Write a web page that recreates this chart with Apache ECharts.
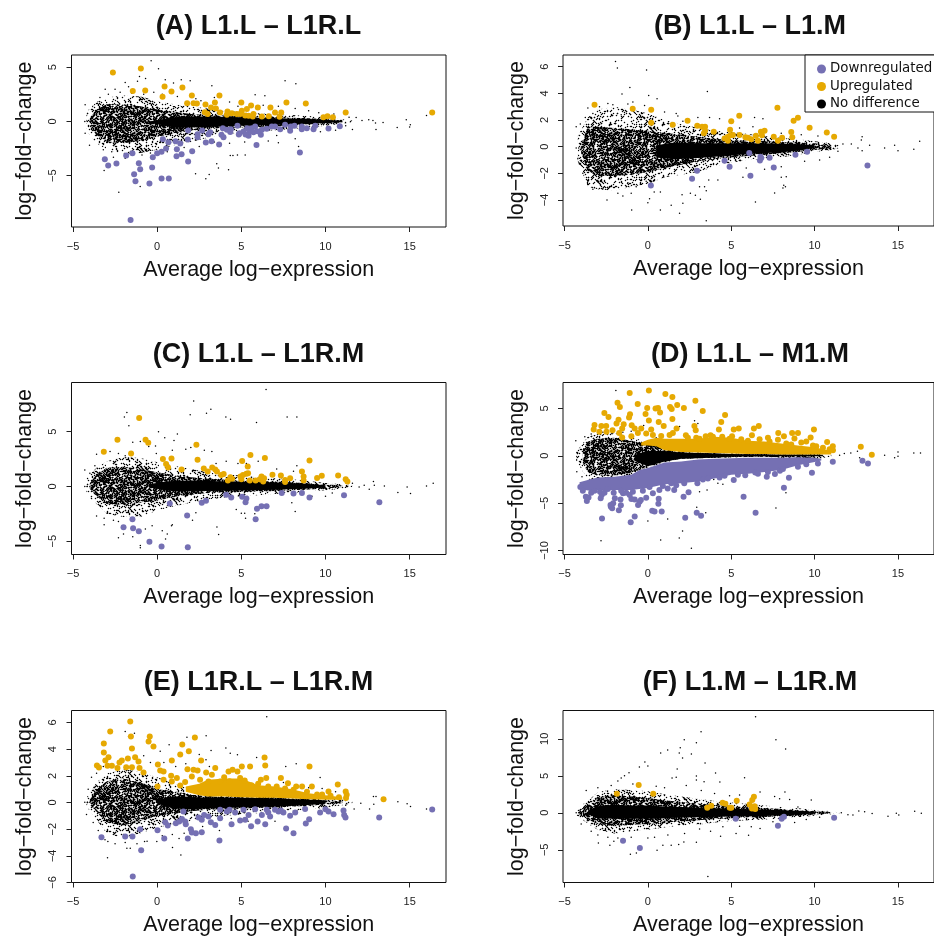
<!DOCTYPE html>
<html><head><meta charset="utf-8">
<style>html,body{margin:0;padding:0;background:#fff;overflow:hidden}#c{width:934px;height:940px}</style>
<script src="https://cdn.jsdelivr.net/npm/echarts@6/dist/echarts.min.js"></script></head>
<body><div id="c"></div>
<script>
const xTicks=[-5,0,5,10,15];
const titles=['(A) L1.L – L1R.L','(B) L1.L – L1.M','(C) L1.L – L1R.M','(D) L1.L – M1.M','(E) L1R.L – L1R.M','(F) L1.M – L1R.M'];
const yTicksA=[-5,0,5], yTicksB=[-4,-2,0,2,4,6], yTicksC=[-5,0,5], yTicksD=[-10,-5,0,5], yTicksE=[-6,-4,-2,0,2,4,6], yTicksF=[-5,0,5,10];

// A
const aOuter=[[-4.2,-.9,.9],[-3.6,-2,1.8],[-3,-2.6,2.2],[-2,-3,2.4],[-1,-2.9,2.3],[0,-2.6,1.9],[1,-2.2,1.6],[2,-1.9,1.4],[3,-1.5,1.2],[4,-1.2,1],[5,-1,.85],[6,-.9,.75],[7,-.8,.65],[8,-.7,.6],[9,-.55,.5],[10,-.4,.4],[11,-.2,.2],[11.6,-.1,.1]];
const aMid=[[-4,-.4,.3],[-3.6,-1.3,1.1],[-3,-1.9,1.6],[-2,-2,1.6],[-1,-1.8,1.4],[0,-1.4,1.1],[1,-1.1,.9],[2,-.85,.7],[3,-.7,.6],[5,-.55,.5],[7,-.45,.4],[9,-.3,.3],[10,-.22,.22],[11,-.1,.1]];
const aCore=[[-.5,-.1,0],[.5,-.4,.25],[1,-.55,.4],[2,-.55,.45],[3,-.5,.45],[5,-.4,.38],[7,-.33,.3],[9,-.22,.22],[10,-.15,.15],[11,-.05,.05]];
const aUp=[[-2.63,4.52],[-.97,4.89],[-1.45,2.8],[-.71,2.86],[.44,3.23],[.85,2.77],[1.5,3.14],[.32,2.28],[2.06,2.4],[3.7,2.4],[1.78,1.69],[2.16,1.69],[2.36,1.66],[2.87,1.57],[3.43,1.75],[3.2,1.29],[3.49,1.2],[2.83,.86],[3,.68],[3.74,.83],[5,1.75],[5.58,1.48],[5.33,1.14],[5.98,1.29],[5.03,1],[6.73,1.29],[7.68,1.75],[8.83,1.66],[7.37,.83],[7,.83],[4.18,.92],[4.14,.62],[4.44,.77],[4.73,.68],[4.93,.7],[5.23,.55],[5.43,.52],[5.72,.7],[5.68,.46],[6.22,.46],[6.63,.49],[7.27,.43],[9.88,.4],[10.12,.49],[10.44,.4],[11.2,.83],[16.34,.83]];
const aDown=[[-1.58,-9.08],[-3.11,-3.48],[-2.91,-4.06],[-2.42,-3.88],[-1.84,-3.14],[-1.47,-2.92],[-1.09,-3.85],[-1.01,-4.4],[-1.37,-4.86],[-1.29,-5.51],[-.46,-5.72],[.26,-5.26],[.69,-5.26],[-.3,-4.25],[-.26,-3.29],[0,-2.92],[.26,-2.8],[.34,-1.63],[.67,-1.91],[.53,-2.49],[1.09,-1.82],[1.37,-2.03],[1.17,-2.55],[1.15,-3.2],[1.45,-3.02],[1.84,-3.69],[2.08,-2.74],[1.84,-.83],[1.82,-1.66],[2.4,-1.17],[2.4,-1.45],[2.67,-.83],[2.89,-1.94],[3.23,-1.82],[3.05,-1.17],[3.15,-1],[3.68,-2.12],[3.82,-1.23],[3.94,-1.45],[3.9,-.62],[4.14,-.77],[4.38,-.71],[4.34,-.98],[4.77,-.4],[4.89,-1.08],[5.13,-.92],[5.43,-1.32],[5.49,-.92],[5.62,-.62],[5.82,-.46],[5.72,-1],[6.16,-1.23],[6.22,-.77],[5.9,-2.18],[6.51,-.68],[6.81,-.46],[7,-.46],[7.31,-.71],[7.6,-.31],[7.94,-.46],[7.9,-.86],[8.16,-.4],[8.59,-.46],[8.59,-.71],[8.89,-.62],[9.29,-.71],[9.39,-.4],[8.48,-2.86],[10.18,-.65],[10.85,-.43],[5.35,-.62],[5.95,-.9],[5.25,-1.2],[4.85,-1.2]];
const aOther=[[-4.3,0],[-4.15,0],[-4,0],[-3.85,0],[-.36,5.6],[.08,4.86],[-1.05,4.15],[-.69,3.97],[-1.17,3.7],[-1.9,3.6],[7.6,3.75],[8.24,3.48],[1.43,3.85],[1.96,3.75],[.48,3.85],[.97,3.55],[3.25,3.3],[-3.09,2.98],[-2.5,2.98],[-1.7,3.2],[5.82,2.46],[6.4,2.37],[-4.28,1.54],[-4.28,-1.08],[-4.02,-2.2],[-3.15,-4.52],[-2.28,-6.52],[-2.6,-3.3],[-1.01,-6],[2.28,-4.83],[2.89,-5.29],[3.09,-4.89],[3.54,-3.9],[3.64,-4.3],[4.24,-4.46],[4.34,-3.14],[4.5,-3.14],[4.77,-3.08],[5.23,-3.08],[11.82,.37],[12.17,.1],[12.57,.15],[12.82,.1],[12.97,-.15],[13.42,-.1],[14.26,-.55],[14.8,.15],[15.04,-.3],[15,-.5],[16,.55],[13,-.75],[11.6,-.75],[-3.4,2.2],[-2.9,2.5],[-2.2,2.7],[-1.5,2.6],[-.8,2.5],[-.2,2.7],[.3,2.5],[1.2,2.3],[2.3,2.1],[2.6,1.9],[3.4,2.2],[4.3,1.8],[4.8,1.4],[6.3,1.5],[7.2,1.4],[8.2,1.2],[9,1],[9.6,.8],[10.5,.7],[11.4,.4],[-3.2,-2.6],[-2.7,-2.8],[-1.9,-3.4],[-.9,-3.1],[-.4,-2.9],[.6,-2.8],[1.6,-2.4],[2.5,-2.3],[3.4,-1.9],[4.3,-2],[5.2,-1.9],[6.6,-1.8],[7.1,-1.3],[8.2,-1.6],[8.4,-2.3],[7.2,-1.95],[9.7,-.95],[10.6,-.8],[11.2,-.4]];

// B
const bOuter=[[-4.2,-1.1,.8],[-3.6,-3,2.2],[-3,-3.2,2.8],[-2,-3.3,3],[-1,-3,2.8],[0,-2.8,2.5],[1,-2.3,2],[2,-2.1,1.7],[3,-1.9,1.4],[4,-1.5,1.2],[5,-1.2,1.1],[6,-1,.95],[7,-.9,.8],[8,-.8,.65],[9,-.6,.55],[10,-.4,.4],[11,-.25,.25],[11.5,-.1,.1]];
const bMid=[[-4,-.5,.2],[-3.6,-1.8,1.5],[-3,-2.2,1.5],[-2,-2.2,1.4],[-1,-2.1,1.3],[0,-1.9,1.2],[1,-1.6,1.05],[2,-1.35,.9],[3,-1.1,.75],[4,-.95,.6],[5,-.8,.5],[6,-.7,.45],[7,-.6,.4],[8,-.5,.35],[9,-.4,.3],[10,-.25,.25],[11,-.1,.1]];
const bCore=[[.5,-.8,.1],[1.5,-.95,.3],[3,-.85,.25],[4,-.75,.25],[5,-.65,.25],[6,-.55,.25],[7,-.5,.25],[8,-.4,.22],[9,-.3,.18],[10,-.1,.1]];
const bUp=[[-3.2,3.15],[-.91,2.85],[.2,2.77],[.2,1.8],[1.49,1.65],[2.38,1.95],[2.96,1.58],[3.25,1.5],[3.43,1.5],[3.43,1.2],[3.36,1],[3.95,1.13],[5,1.9],[5.48,2.32],[7.77,2.92],[4.93,1.27],[9,2.18],[8.74,1.95],[9.7,1.42],[10.73,1.07],[11.17,.75],[8.6,1.1],[7,1.2],[6.78,1.13],[6.84,.85],[6.48,.82],[7.55,.75],[8.05,.68],[8.66,.7],[7.8,.45],[6.6,.45],[6.2,.55],[6,.68],[5.85,.7],[5.5,.88],[5.1,.88],[4.95,.85],[4.78,.72],[4.6,.62],[4.8,.45]];
const bDown=[[.18,-2.92],[2.65,-2.4],[2.95,-1.8],[4.6,-1.05],[4.9,-1.5],[6.08,-.47],[6.75,-.75],[6.8,-.85],[6.72,-1.03],[7.3,-.82],[7.55,-1.57],[6.15,-2.18],[8.85,-.6],[9.55,-.38],[13.17,-1.42]];
const bOther=[[-4.3,-.1],[-4.15,-.1],[-4,-.1],[-3.85,-.1],[-1.94,6.4],[-1.83,5.9],[-.08,5.75],[-1.08,4.45],[3.57,4.15],[.05,3.85],[.55,3.6],[-1.55,3.95],[-1.2,3.2],[-2.4,3.25],[-2.9,3],[-3.6,2.9],[-2.1,3.15],[-.9,3.35],[-.2,3.1],[1,2.6],[1.7,2.5],[1.8,2.3],[3.7,2.2],[4.3,2.1],[6.4,2.2],[6.9,2.1],[-3.75,2.2],[-4.3,1.5],[-4.05,1.7],[-3.3,2.5],[-1.6,2.4],[-.4,2.2],[2.1,1.9],[3,2.2],[-4.2,-.9],[-4.1,-1.3],[-3.9,-2],[-3.6,-2.6],[-3.3,-3.2],[-2.7,-3.15],[-2.45,-4],[-1.8,-3.5],[-1.5,-3.7],[-1,-3.5],[-.97,-4.75],[.1,-3.9],[0,-4.2],[.38,-3.4],[.75,-3.4],[.75,-4.75],[1.4,-4.4],[1.9,-5],[2.05,-3.6],[2.55,-3.5],[2.85,-3.65],[3.15,-3.95],[2.1,-4.25],[3.1,-3],[3.4,-3],[3.5,-3.3],[3.65,-2.5],[4.2,-2.5],[5.7,-2.3],[6.45,-4.15],[7.6,-3.48],[8.15,-2.9],[8.3,-2.25],[8,-2.3],[8.25,-3],[8.1,-3.1],[3.5,-5.55],[-.1,-2.6],[-1.2,-2.7],[-.7,-3],[5.9,-1.6],[7,-1.7],[8,-1.5],[9.4,-1.1],[10.3,-1],[10.9,-.8],[11.4,-.35],[11.7,.2],[12.2,.2],[12.6,-.1],[12.85,-.3],[12.85,.75],[12.8,.5],[13.3,.1],[14.2,-.1],[14.8,.1],[15,-.3],[15.95,-.2],[16.3,.4],[10.2,.8],[9.2,.9],[8,1],[5.5,1.4],[6.3,1.5]];

// C
const cOuter=[[-4.2,-.5,.8],[-3.6,-1.6,1.7],[-3,-2.5,2.3],[-2,-2.8,2.7],[-1,-2.8,2.6],[0,-2.2,2.2],[1,-1.8,1.9],[2,-1.5,1.6],[3,-1.2,1.3],[4,-1,1.1],[5,-.9,1],[6,-.8,.85],[7,-.7,.75],[8,-.6,.65],[9,-.45,.5],[10,-.35,.32],[11,-.2,.2],[11.6,-.05,.1]];
const cMid=[[-4,-.2,.3],[-3.6,-.9,1.1],[-3,-1.6,1.7],[-2,-1.7,1.8],[-1,-1.5,1.6],[0,-1.3,1.3],[1,-.95,1.05],[2,-.75,.85],[3,-.6,.7],[5,-.5,.55],[7,-.42,.45],[9,-.28,.3],[10,-.18,.18],[11,-.05,.1]];
const cCore=[[-.5,-.1,.2],[.5,-.35,.45],[1,-.45,.5],[2,-.45,.55],[3,-.42,.5],[5,-.38,.42],[7,-.3,.35],[9,-.18,.22],[10,-.1,.1]];
const cUp=[[-1.07,6.25],[-3.17,3.16],[-2.36,4.27],[-.69,4.27],[-.53,4],[-1.55,3],[2.33,3.8],[.34,2.5],[.85,2.55],[2.4,2.44],[.53,2.05],[.65,1.73],[1.45,1.55],[2.77,1.65],[3.27,1.73],[3.45,1.55],[3,1.36],[3.55,1.36],[3.8,1.05],[3.95,1.14],[5.54,2.88],[5.05,2.33],[6.4,2.61],[5.38,1.82],[9.05,2.36],[4.2,.55],[4.35,.85],[4.45,.7],[4.95,.9],[5,.65],[5.1,1.05],[5.3,1.15],[5.4,1.2],[5.5,.55],[5.85,.55],[6.1,.65],[6.2,.9],[6.35,.75],[6.3,.45],[6.85,1.06],[7.35,1],[7.6,.6],[7.6,.4],[7.9,.75],[8.6,1.36],[8.7,.9],[8.7,.55],[9.5,.78],[9.78,.97],[10.75,1],[11.2,.65],[11.3,.45]];
const cDown=[[-2,-3.74],[-1.47,-3],[-1.43,-3.82],[-1.09,-4.1],[-.46,-5.06],[.26,-5.5],[1.82,-5.55],[.75,-1.55],[1.78,-2.65],[2.65,-1.5],[2.9,-1.3],[4.1,-.75],[4.4,-1],[5.05,-.95],[5.3,-1.1],[5.25,-1.45],[5.85,-3],[5.93,-2.03],[6.2,-1.8],[6.5,-1.8],[7.4,-.6],[8.1,-.65],[8.6,-.6],[9.05,-1],[11.1,-.8],[13.2,-1.45]];
const cOther=[[-4.3,0],[-4.15,0],[-4,0],[-3.85,0],[6.47,8.85],[2.17,7.8],[3.19,7.05],[2.93,6.7],[1.96,6.55],[-1.8,6.75],[-1.95,6.35],[-1.68,5.55],[4.08,6.35],[4.36,6.15],[5.9,5.85],[7.72,6.35],[8.3,6.35],[.08,5],[1.2,4.8],[.45,4.45],[1,4.2],[-1.45,4.05],[-1,4.1],[-.5,3.65],[-.1,3.7],[2,3.55],[2.8,3.3],[3.25,3.2],[-.05,3],[1.7,3.4],[.9,3.3],[-3.6,2.95],[-2.8,3.2],[-2.3,3],[-1.9,2.8],[4.8,2.1],[5.3,2.1],[4.1,2.3],[3.5,2.1],[6,2.3],[7.1,1.6],[8.3,1.9],[8.1,1.4],[-4.3,1.5],[-4,1.2],[-3.7,1.9],[-3.9,-1.1],[-3.6,-2.7],[-3.15,-2.9],[-3.15,-3.5],[-2.6,-3.1],[-2.3,-3.2],[-2.3,-4.7],[-2,-4.35],[-1.45,-4.6],[-1,-5.4],[-1,-5.6],[-.7,-3.9],[-.3,-3.6],[.3,-4.05],[.6,-4.35],[.5,-4.8],[.9,-3.5],[.85,-3.6],[2.1,-3.1],[2.3,-2.4],[3.55,-3.7],[3.65,-4.4],[4.7,-2.1],[5,-2.45],[5.2,-2.45],[5.25,-2.9],[5.8,-2.5],[6.6,-1.9],[8.2,-2.3],[8,-1.5],[9.2,-.9],[10,-.9],[10.4,-.6],[11.3,.3],[11.6,.3],[12,-.05],[12.3,.1],[12.6,-.25],[12.85,.45],[12.9,.1],[13.5,.05],[14.3,-.55],[14.85,-.05],[15.05,-.65],[16,.05],[16.4,.3]];

// D
const dOuter=[[-4.3,-.5,.4],[-3.6,-2.5,2],[-3,-2.6,2.3],[-2,-2.4,2.4],[-1,-2,2],[0,-1.3,1.4],[1,-.7,1.1],[2,-.3,.4],[3,-.25,.35],[5,-.15,.25],[7,-.1,.2],[9,-.3,.2],[10,-.35,.2],[11,-.1,.1]];
const dMid=[[-3.9,-.8,.7],[-3.6,-1.7,1.5],[-3,-2.1,1.8],[-2,-2.1,1.9],[-1,-1.8,1.6],[0,-1.2,1.2],[1,-.65,.9],[2,-.3,.35],[3,-.25,.3],[5,-.15,.2],[7,-.1,.15],[9,-.2,.15],[10,-.2,.1]];
const dCore=[[-.8,-.5,.1],[0,-1.1,.5],[1,-.6,.5],[2,-.3,.35],[3,-.25,.3],[5,-.1,.2],[7,-.05,.15],[9,-.05,.15],[10.5,-.05,.1]];
const dUpBand=[[-.4,1.1,1.4],[0,1.1,1.7],[.5,1,1.9],[1,.6,1.8],[2,.4,1.8],[3,.35,1.8],[4,.3,2],[5,.25,1.9],[6,.2,1.6],[7,.2,1.5],[8,.15,1.3],[9,.15,1.1],[10,.15,.9],[11,.15,.5]];
const dDownBand=[[-4.1,-3.5,-2.8],[-3.5,-3.7,-2.5],[-3,-3.6,-2.3],[-2,-3.6,-2.2],[-1,-3.6,-2],[-.5,-3.5,-1.5],[0,-3.4,-1.3],[1,-3,-.7],[2,-2.9,-.6],[3,-2.7,-.4],[4,-2.4,-.3],[5,-2,-.25],[6,-1.9,-.2],[7,-1.7,-.2],[8,-1.5,-.2],[9,-1,-.15],[10,-.65,-.2],[10.4,-.5,-.3]];
const dUp=[[.06,6.9],[-1.09,6.63],[1.05,6.53],[1.47,6.2],[2.85,5.8],[-1.82,5.6],[-1.68,5.16],[-.61,5.47],[1.76,5.37],[2.16,5.05],[3.29,4.74],[-.04,5.05],[.46,5],[.61,5.05],[1.33,5.16],[1.43,4.95],[-2.61,4.53],[-2.36,4.1],[-1.07,4.39],[-1.13,4.04],[-.14,4.42],[.73,4.56],[4.63,4.32],[1.47,3.89],[.06,3.72],[.65,3.58],[4.4,3.58],[-1.76,3.82],[-1.88,3.4],[-1.45,3.33],[-3.2,3.26],[-2.79,3.16],[-2.5,3.16],[.95,3.16],[-.97,3.23],[6.65,3.16],[6.36,2.88],[9.96,2.77],[2.79,3.16],[5.45,2.88],[5.15,2.77],[4.26,2.77],[-3.25,2.77],[-2.91,2.53],[-2.48,2.53],[-2.12,2.7],[-1.72,2.42],[-1.54,2.88],[-.79,2.88],[-.4,2.88],[.2,2.77],[1.72,2.88],[2.87,2.7],[7.82,2.42],[8.65,2.42],[9,2.42],[8.16,2.07],[9.76,1.93],[8.79,1.82],[10.75,1.47],[12.77,.95],[13.43,.1],[-1.54,1.93],[-.99,2.07],[-.1,2.35],[6.24,2.18],[5.05,2.07],[3.76,2.18],[3.47,2.07],[4.46,2],[2.28,2.18],[11.09,1.02],[10.5,.85],[10.1,1],[-.6,2.4],[.3,2.2],[.8,2.1],[1.3,2.2],[1.5,2.4],[2.4,1.9],[2.9,1.9],[3.1,1.8],[3.9,2],[4.9,1.8],[5.6,1.75],[6,1.6],[6.7,1.75],[7.2,1.9],[7.3,1.5],[7.8,1.7],[8.3,1.3],[8.6,1.2],[9.2,1.4],[9.5,1.5],[9.9,1.1],[10.9,.7],[11.1,.6]];
const dDown=[[-2.75,-6.63],[-1.03,-7.02],[-.79,-6.42],[.26,-5.79],[.4,-5.89],[.83,-5.89],[2.24,-6.53],[2.93,-6],[3.19,-6.32],[6.46,-6],[5.74,-4.32],[8.16,-3.37],[8.46,-2.32],[9.84,-1.79],[12.87,-.53],[13.2,-.81],[11.09,-.63],[2.14,-4.32],[2.44,-3.86],[.65,-4.53],[.63,-5.05],[-.1,-4.42],[-.5,-4.84],[-.59,-5.19],[-.42,-4.67],[-.99,-4.56],[-.79,-4.6],[-1.64,-4.6],[-1.62,-5.23],[-1.74,-5.75],[-1.98,-4.49],[-2.08,-5.02],[-2.22,-5.37],[-2.14,-5.54],[-2.24,-5.19],[-3.66,-4.77],[-3.56,-4.39],[-3.72,-4.32],[-2.83,-4.49],[-2.77,-4.14],[-2.87,-3.79],[-1.49,-3.96],[-1.09,-4.14],[.3,-3.96],[.69,-3.61],[1.58,-3.61],[1.19,-3.44],[2.18,-2.91],[2.97,-2.91],[5.15,-2.56],[5.84,-2.04],[7.13,-2.21],[7.92,-1.58],[7.62,-1.93],[9,-1.16],[10.2,-.81],[9.5,-.88],[6.44,-1.75],[-4.05,-3.3],[-3.9,-3.7],[-3.4,-3.9],[-3.2,-3.7],[-2.6,-3.9],[-2.4,-3.5],[-2.05,-3.9],[-1.6,-3.7],[-1.3,-3.9],[-.9,-3.8],[-.3,-3.7],[.1,-3.3],[.9,-3.2],[1.4,-2.9],[1.7,-3.1],[3.3,-2.5],[3.6,-2.4],[4.3,-2.3],[4.6,-2.1],[5.4,-2],[6.6,-1.9],[7.2,-1.7],[8.1,-1.4]];
const dOther=[[-1.92,6.9],[0,-6.88],[1.19,-6.67],[2.08,-7.93],[1.88,-8.67],[.77,-8.88],[-2.81,-8.98],[2.61,-9.75],[3.47,-6],[2.93,-5.44],[7.68,-5.51],[8.28,-3.89],[3.1,-3.8],[3.55,-3.6],[2.08,-4.49],[11.78,.25],[12.17,.3],[12.57,.47],[14.2,.05],[15,.4],[15,-.05],[14.8,-.2],[15.95,.3],[16.35,.3],[11.5,.05],[12.7,-.2],[-4.32,1.58],[-4.26,-1.68],[-3.78,2],[-3.95,-2.2],[-3.4,2.3],[-2.7,2.5],[-1.5,2.5],[-1,2.6],[.5,1.9],[2.2,-2],[2.25,-2.1],[2.4,-2.2],[3.75,-2.2],[3.95,-2.5],[2.3,-1.95],[-.2,-1.8],[0,-2.2],[2.8,3.7],[3,3.4],[1.9,3.1],[4.5,-3],[4.2,-2.9],[-.25,3.2]];

// E
const eOuter=[[-4.2,-.3,.35],[-3.6,-1.3,1.5],[-3,-2.3,2.2],[-2,-2.7,2.5],[-1,-2.3,2.3],[0,-1.9,1.9],[1,-1.6,1.4],[2,-1.4,1],[3,-1.1,.7],[4,-1,.5],[5,-.9,.45],[7,-.7,.4],[9,-.55,.3],[10,-.4,.3],[11,-.2,.2],[11.6,-.05,.1]];
const eMid=[[-4,-.15,.25],[-3.6,-.7,1],[-3,-1.5,1.6],[-2,-1.7,1.8],[-1,-1.4,1.5],[0,-1,1],[1,-.85,.85],[2,-.65,.6],[3,-.55,.45],[5,-.45,.4],[7,-.38,.35],[9,-.25,.25],[10,-.15,.15],[11,-.05,.1]];
const eCore=[[0,-.1,.2],[1,-.45,.45],[2,-.5,.42],[3,-.45,.35],[5,-.38,.35],[7,-.3,.3],[9,-.18,.2],[10,-.1,.15]];
const eUpBand=[[1.7,.8,1.2],[2.5,.55,1.4],[3,.45,1.7],[4,.45,1.8],[5,.4,1.8],[6,.35,1.3],[7,.35,1.2],[8,.3,1],[9,.25,.7],[10,.2,.55],[11,.2,.4]];
const eUp=[[-1.6,6.07],[-2.79,5.33],[-1.56,4.95],[-.44,4.95],[-.51,4.58],[2.24,4.88],[-3.17,4.43],[-.22,4.2],[1.49,4.35],[-1.5,4.05],[-3.17,3.75],[1.88,3.85],[1.37,3.6],[-2.89,3.4],[-3.08,3.15],[-1.31,3.4],[-1.74,3.3],[-2.1,3.15],[-2.24,3],[-1.11,3.08],[2.61,3.15],[.87,3.15],[6.38,3.38],[6.42,2.78],[-3.58,2.78],[-3.46,2.63],[-2.95,2.75],[-2.69,2.75],[-2.36,2.58],[-1.84,2.65],[-1.5,2.65],[-1.05,2.58],[-.81,2.25],[.04,2.85],[3.45,2.58],[5.03,2.7],[5.52,2.7],[9.05,2.7],[.18,2.4],[.38,2.33],[1.8,2.5],[2.16,2.45],[2.4,2.4],[2.91,2.25],[3.25,2.08],[4.48,2.45],[4.24,2.33],[4.77,2.33],[3.98,1.9],[4.93,1.83],[6.48,1.83],[6.16,1.7],[7.35,1.83],[7.77,1.45],[10.73,1.35],[8.26,1.2],[8.61,1.2],[9.19,1.2],[11.2,.83],[13.45,.25],[10.18,.83],[11.26,.58],[11.22,.33],[.02,1.2],[.38,1.7],[.83,2],[1.17,1.83],[.87,1.58],[1.37,1.28],[1.66,1.53],[2.06,1.95],[2.55,1.7],[3.05,1.58],[3.74,1.58],[4.3,1.6],[5.2,1.65],[5.6,1.3],[6,1.4],[6.6,1.2],[7.1,1.2],[7.6,1.05],[8.1,.95],[8.9,.8],[9.5,.6],[9.8,.6],[10.3,.5],[10.8,.4]];
const eDown=[[-1.45,-5.55],[-.95,-3.58],[-3.31,-2.6],[-1.9,-2.55],[-1.47,-2.55],[-1.01,-2],[.02,-2.08],[.42,-2.7],[1.82,-2.7],[3.7,-2.85],[2.65,-2.23],[2.3,-2.3],[2.06,-2.25],[2,-2],[.48,-1.48],[.63,-1.73],[1.11,-1.55],[1.31,-1.43],[1.47,-1.23],[1.66,-1.43],[1.7,-1.63],[1.56,-.68],[2.46,-1.13],[2.65,-1.3],[2.79,-.93],[3.05,-1.05],[3.19,-1.48],[3.45,-1.68],[3.74,-1.18],[4.42,-1.63],[4.93,-1.35],[5.23,-1.3],[5.43,-.93],[5.58,-1.78],[5.97,-1.43],[6.42,-1.63],[7.66,-1.95],[8.1,-2.3],[8.83,-1.58],[9.03,-1.25],[7.9,-1],[6.22,-.93],[6.71,-1.05],[7.21,-.68],[7.5,-.75],[8.2,-.75],[9.68,-.75],[10.48,-.88],[11.11,-.93],[11.19,-1.13],[13.19,-1.13],[16.34,-.53],[10.18,-.68],[3.74,-.55],[4.14,-.68],[4.63,-.75],[5.13,-.55],[5.82,-.5],[6.51,-.55],[7,-.55],[8.79,-.48],[11.07,-.6],[6.6,-.75],[7.35,-.6],[4.3,-.55],[10,-.5]];
const eOther=[[-4.3,.02],[-4.15,.02],[-4,.02],[-3.85,.02],[6.51,6.43],[-1.9,5.33],[-1.35,5.2],[-1.7,4.95],[2.91,5],[1.77,4.9],[.18,3.85],[.71,4.33],[4.08,4.08],[4.34,3.7],[4.77,3.58],[5.91,3.38],[8.26,2.9],[7.64,2.7],[9.68,1.88],[-2.95,-4.15],[1.41,-3.93],[-1.8,-3.43],[-1.6,-3.43],[.91,-3.38],[-.75,-2.93],[-2.93,-2.93],[-.02,-2.93],[12.85,.45],[13,.45],[11.7,-.48],[12.1,-.05],[12.62,-.48],[12.87,-.13],[14.3,.05],[14.85,-.1],[15.05,-.3],[16,-.48],[11.2,-.2],[-4.1,1],[-3.9,1.9],[-3.6,2.2],[-3.2,2.7],[-2.3,2.9],[-.8,3.5],[-.4,3],[.4,3],[1.1,2.7],[2.5,3.6],[3.2,3.9],[2.9,3.2],[1.7,2.9],[3.1,2.7],[-4.2,-.9],[-3.8,-1.5],[-3.5,-2.1],[-3.1,-2.8],[-2.5,-3.1],[-1.9,-3],[-1.2,-3.1],[-.6,-2.9],[.3,-2.5],[.9,-2.4],[1.3,-2.7],[1.6,-2.3],[2.7,-1.8],[3.7,-2.1],[4.4,-1.2],[5.4,-1.4],[7,-1.4],[9.8,-.2],[10.6,.8],[9.8,1.05],[9,1.1],[7.5,1.5]];

// F
const fOuter=[[-4.3,-.3,.3],[-4,-.8,1],[-3.5,-1.6,1.8],[-3,-2.3,2.8],[-2,-2.8,3.2],[-1,-2.5,3.1],[0,-2.3,2.9],[1,-2,2.5],[2,-1.7,2.2],[3,-1.6,1.9],[4,-1.3,1.6],[5,-1.1,1.4],[6,-1,1.2],[7,-.9,1],[8,-.8,.8],[9,-.6,.6],[10,-.4,.4],[11,-.2,.2],[11.5,-.05,.05]];
const fMid=[[-4.1,-.3,.4],[-3.5,-1,1.2],[-3,-1.5,2.1],[-2,-1.8,2.4],[-1,-1.6,2.2],[0,-1.5,2],[1,-1.3,1.7],[2,-1.15,1.45],[3,-1,1.25],[4,-.85,1.05],[5,-.75,.9],[6,-.65,.75],[7,-.55,.65],[8,-.45,.5],[9,-.35,.35],[10,-.22,.22],[11,-.05,.1]];
const fCore=[[-3.6,-.2,.3],[-3,-.7,.9],[-2,-.8,1.1],[-1,-.8,1],[0,-.8,1],[1,-.75,.85],[2,-.65,.8],[3,-.6,.7],[5,-.5,.55],[7,-.42,.42],[9,-.25,.28],[10,-.1,.15]];
const fUp=[[-.55,3.76],[-1.86,2.58],[.32,2.58],[3.56,.68],[3.8,.95],[4.48,1.36],[4.65,1.22],[4.91,.68],[5,.68],[5.33,1.63],[6.36,2.17],[6.26,1.72],[6.1,1.13],[6.24,.59],[6.4,.9],[6.44,.5]];
const fDown=[[-1.49,-3.76],[-.48,-4.75],[5.27,-.81],[7.8,-1.76],[8.02,-.81],[8.16,-.54],[11.17,-.68]];
const fOther=[[-4.3,0],[-4.15,0],[-4,0],[-3.85,0],[6.46,12.99],[3.19,10.95],[7.68,9.86],[8.26,8.64],[2.18,9.86],[2.91,9.46],[1.94,8.78],[1.19,8.5],[.77,8.1],[1.88,8.1],[2.08,7.42],[2.61,7.96],[3.43,6.74],[-.18,6.88],[0,6.33],[-.51,6.2],[1.76,5.93],[4.06,5.38],[5.8,4.75],[2.91,4.98],[2.91,4.43],[3.37,4.2],[4.32,4.16],[1.7,4.8],[1.45,4.7],[-1.13,5.43],[-1.4,5],[-1.6,4.7],[6.73,2.8],[8.22,2.8],[3.6,-8.6],[-1.05,-5.6],[-.69,-5.43],[.55,-5.07],[-2.97,-4.07],[-2.28,-4.39],[-2.04,-3.85],[2.91,-3.98],[2.16,-3.94],[1.85,-4.3],[1.4,-4.4],[.9,-4.4],[4.36,-3.17],[6.04,-3.03],[3.76,-2.5],[5.29,-2.8],[6.73,-2.13],[9.8,1.72],[9,.8],[12.3,-.3],[12.65,.25],[13,.15],[13.45,-.1],[14.4,-.45],[14.9,-.05],[15.05,-.3],[16,.2],[16.4,-.05],[11.6,0],[12,-.25],[-3.7,3],[-3,3.4],[-2.2,3.7],[-1.8,4.3],[-.9,3.9],[.5,3.6],[1,3.4],[2.3,3.7],[3.2,3],[4,2.6],[4.9,2.3],[5.5,2.4],[7.6,2.2],[7.9,1.9],[8.5,1.8],[-4,-1.5],[-3.4,-2.5],[-3,-3],[-2.4,-3.3],[-1.8,-3.4],[-1,-3.3],[0,-3.4],[.4,-3.3],[1.2,-3],[2.2,-2.8],[3.1,-2.2],[4.5,-1.9],[5.5,-1.8],[6.2,-1.9],[7.5,-1.2],[8.8,-1.3],[9.5,-.9],[10.3,-.6]];

const panels=[
 {y:yTicksA,yr:[-9.73,6.13],l:71.5,t:55,h:172,other:aOther,up:aUp,down:aDown,outer:aOuter,mid:aMid,core:aCore},
 {y:yTicksB,yr:[-5.95,6.88],l:563,t:55,h:171,other:bOther,up:bUp,down:bDown,outer:bOuter,mid:bMid,core:bCore},
 {y:yTicksC,yr:[-6.22,9.5],l:71.5,t:382.5,h:172,other:cOther,up:cUp,down:cDown,outer:cOuter,mid:cMid,core:cCore},
 {y:yTicksD,yr:[-10.42,7.74],l:563,t:382.5,h:172,other:dOther,up:dUp,down:dDown,outer:dOuter,mid:dMid,core:dCore,upBand:dUpBand,downBand:dDownBand},
 {y:yTicksE,yr:[-6,6.9],l:71.5,t:710.5,h:172,other:eOther,up:eUp,down:eDown,outer:eOuter,mid:eMid,core:eCore,upBand:eUpBand},
 {y:yTicksF,yr:[-9.42,13.83],l:563,t:710.5,h:172,other:fOther,up:fUp,down:fDown,outer:fOuter,mid:fMid,core:fCore}
];
const UP='#E6A902', DOWN='#7570B3', FONT='"Liberation Sans",Arial,Helvetica,sans-serif';
const minus=v=>String(v).replace('-','\u2212');

// Fill texture for the sparse and mid-density parts of the cloud (a style, not data).
const speckSeed=[[3,7],[11,2],[19,14],[27,5],[35,21],[44,9],[50,30],[6,25],[15,38],[23,47],[31,33],[40,44],[48,17],[9,50],[2,41],[17,27],[26,19],[37,3],[43,36],[52,48],[13,9],[21,31],[29,42],[34,12],[46,24],[5,16],[12,45],[20,4],[28,26],[39,51],[47,6],[1,33],[16,20],[24,37],[32,49],[41,15],[51,39],[8,35],[36,28],[18,52]];
function speckle(n,r){
  const P=53,c=document.createElement('canvas');c.width=c.height=P;
  const g=c.getContext('2d');g.fillStyle='#000';
  for(let k=1;k<=n;k++) speckSeed.forEach(([x,y])=>{
    const px=(x*k+y*(k%5)+7*k)%P, py=(y*k+x*(k%3)+11*k)%P;
    g.beginPath();g.arc(px+.5,py+.5,r,0,7);g.fill();
  });
  return {image:c,repeat:'repeat'};
}
const sparseFill=speckle(12,.75), midFill=speckle(52,.8);

function band(name,rows,fill,i,z){
  return {type:'custom',name,coordinateSystem:'cartesian2d',xAxisIndex:i,yAxisIndex:i,silent:true,z,clip:true,
    data:rows,encode:{x:0,y:[1,2]},
    renderItem(params,api){
      if(params.dataIndex!==0) return null;
      const top=rows.map(r=>api.coord([r[0],r[2]]));
      const bot=rows.slice().reverse().map(r=>api.coord([r[0],r[1]]));
      return {type:'polygon',shape:{points:top.concat(bot)},style:{fill}};
    }};
}
function dots(name,data,color,size,i,z){
  return {type:'scatter',name,data,xAxisIndex:i,yAxisIndex:i,symbol:'circle',symbolSize:size,
    itemStyle:{color,opacity:1},silent:true,z,animation:false,progressive:0,clip:true};
}
const grids=[],xs=[],ys=[],series=[],ttl=[];
panels.forEach((p,i)=>{
  grids.push({left:p.l,top:p.t,width:374.5,height:p.h,show:true,borderColor:'#111',borderWidth:1,backgroundColor:'transparent'});
  xs.push({type:'value',gridIndex:i,min:-5.09,max:17.16,splitLine:{show:false},
    axisLine:{show:false,onZero:false},
    axisTick:{show:true,length:5,customValues:xTicks,lineStyle:{color:'#222',width:1}},
    axisLabel:{show:true,customValues:xTicks,formatter:minus,fontFamily:FONT,fontSize:11,color:'#222',margin:14},
    name:'Average log\u2212expression',nameLocation:'middle',nameGap:32,
    nameTextStyle:{fontFamily:FONT,fontSize:21.5,color:'#111'}});
  ys.push({type:'value',gridIndex:i,min:p.yr[0],max:p.yr[1],splitLine:{show:false},
    axisLine:{show:false,onZero:false},
    axisTick:{show:true,length:5,customValues:p.y,lineStyle:{color:'#222',width:1}},
    axisLabel:{show:true,customValues:p.y,rotate:90,formatter:minus,fontFamily:FONT,fontSize:11,color:'#222',margin:13},
    name:'log\u2212fold\u2212change',nameLocation:'middle',nameRotate:90,nameGap:35,
    nameTextStyle:{fontFamily:FONT,fontSize:21.5,color:'#111'}});
  ttl.push({text:titles[i],left:p.l+182,top:p.t-46.5,textAlign:'center',
    textStyle:{fontFamily:FONT,fontSize:27,fontWeight:'bold',color:'#111'}});
  series.push(band('No difference',p.outer,sparseFill,i,1));
  series.push(band('No difference',p.mid,midFill,i,2));
  series.push(band('No difference',p.core,'#000',i,3));
  series.push(dots('No difference',p.other,'#000',1.5,i,4));
  if(p.downBand) series.push(band('Downregulated',p.downBand,DOWN,i,5));
  if(p.upBand) series.push(band('Upregulated',p.upBand,UP,i,5));
  series.push(dots('Downregulated',p.down,DOWN,6,i,6));
  series.push(dots('Upregulated',p.up,UP,6,i,6));
});
const chart=echarts.init(document.getElementById('c'),null,{renderer:'canvas'});
chart.setOption({animation:false,backgroundColor:'#fff',title:ttl,grid:grids,xAxis:xs,yAxis:ys,series,
  tooltip:{show:false},
  legend:{show:true,orient:'vertical',left:805,top:55,padding:[6,14,0,12],itemGap:1.5,itemWidth:9,itemHeight:9,itemStyle:{opacity:1},
    backgroundColor:'#fff',borderColor:'#111',borderWidth:1,borderRadius:0,selectedMode:false,align:'left',z:20,
    textStyle:{fontFamily:'"DejaVu Sans",sans-serif',fontSize:13.4,color:'#111',padding:[0,0,0,-1],lineHeight:16},
    data:[{name:'Downregulated',icon:'circle',itemStyle:{color:DOWN}},{name:'Upregulated',icon:'circle',itemStyle:{color:UP}},{name:'No difference',icon:'circle',itemStyle:{color:'#000'}}]}
});
</script></body></html>
